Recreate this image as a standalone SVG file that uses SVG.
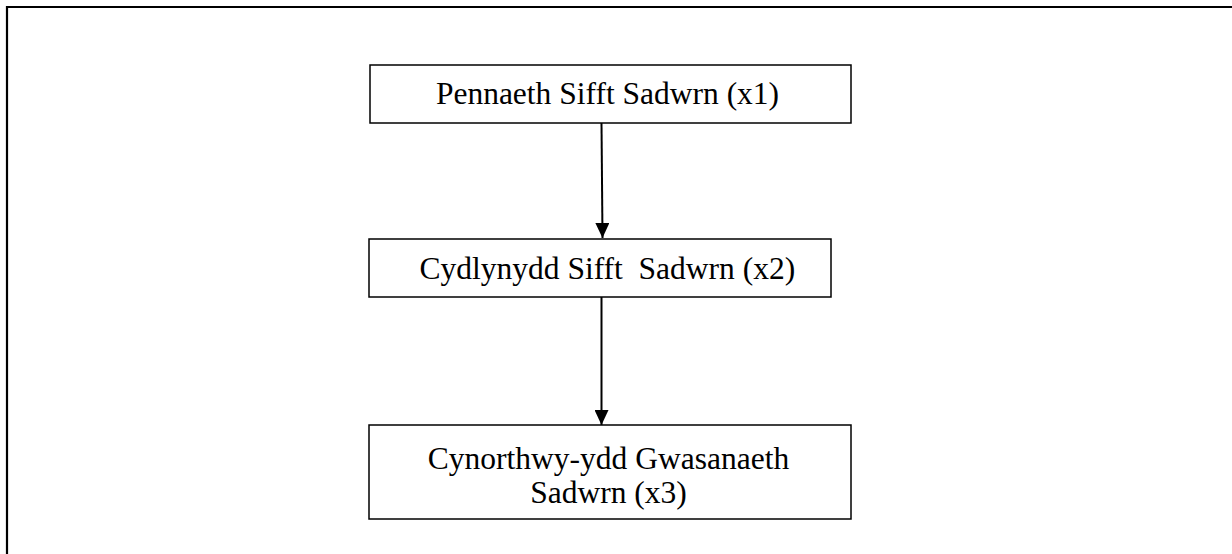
<svg xmlns="http://www.w3.org/2000/svg" width="1232" height="554" viewBox="0 0 1232 554">
  <style>
    .box { fill: #ffffff; stroke: #000000; stroke-width: 1.5; }
    .lbl { font-family: "Liberation Serif", "Times New Roman", serif; font-size: 31.5px; fill: #000000; }
    .edge { stroke: #000000; stroke-width: 2; fill: none; }
    .frame { stroke: #000000; stroke-width: 2.2; fill: none; }
  </style>
  <defs>
    <marker id="arrow" markerUnits="userSpaceOnUse" markerWidth="16" markerHeight="14" refX="15" refY="7" orient="auto">
      <path d="M0,0 L15,7 L0,14 Z" fill="#000000"/>
    </marker>
  </defs>
  <rect width="1232" height="554" fill="#ffffff"/>
  <!-- page frame: top and left rules -->
  <path class="frame" d="M7,554 L7,7 L1232,7"/>

  <g id="connectors">
    <line class="edge" x1="601.5" y1="123" x2="602.5" y2="238" marker-end="url(#arrow)"/>
    <line class="edge" x1="601.5" y1="297" x2="601.5" y2="425" marker-end="url(#arrow)"/>
  </g>

  <g id="node-pennaeth">
    <rect class="box" x="370" y="65" width="481" height="58"/>
    <text class="lbl" x="607.5" y="104" text-anchor="middle">Pennaeth Sifft Sadwrn (x1)</text>
  </g>

  <g id="node-cydlynydd">
    <rect class="box" x="369" y="239" width="462" height="58"/>
    <text class="lbl" x="419.5" y="279" xml:space="preserve">Cydlynydd Sifft  Sadwrn (x2)</text>
  </g>

  <g id="node-cynorthwyydd">
    <rect class="box" x="369" y="425" width="482" height="94"/>
    <text class="lbl" x="608.5" y="469" text-anchor="middle">Cynorthwy-ydd Gwasanaeth</text>
    <text class="lbl" x="608.5" y="503" text-anchor="middle">Sadwrn (x3)</text>
  </g>
</svg>
